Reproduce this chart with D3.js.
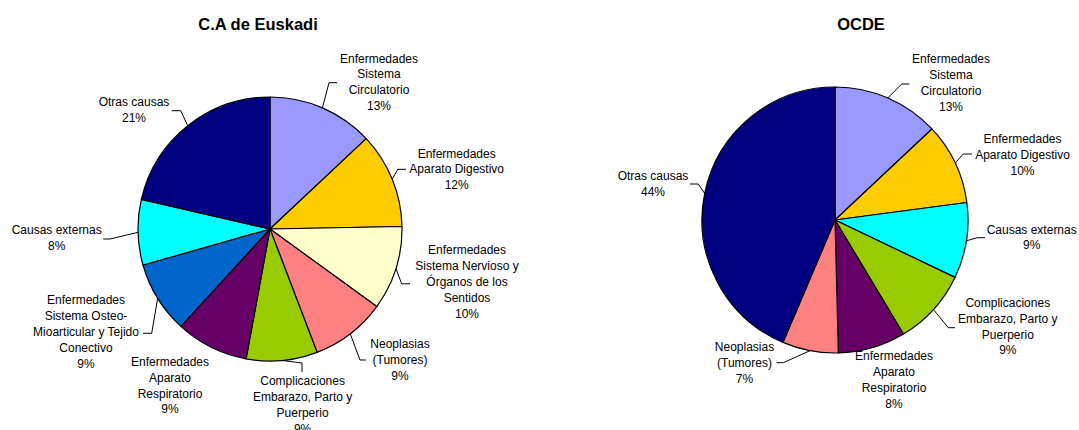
<!DOCTYPE html>
<html>
<head>
<meta charset="utf-8">
<script src="https://cdn.jsdelivr.net/npm/d3@7"></script>
<style>
  html, body { margin: 0; padding: 0; background: #ffffff; }
  svg { display: block; }
  text { font-family: "Liberation Sans", Arial, sans-serif; fill: #000; }
</style>
</head>
<body>
<div id="chart"></div>
<script>
// Causes of sick leave, share by group
const euskadiCauses = [
  "Enfermedades Sistema Circulatorio",
  "Enfermedades Aparato Digestivo",
  "Enfermedades Sistema Nervioso y Órganos de los Sentidos",
  "Neoplasias (Tumores)",
  "Complicaciones Embarazo, Parto y Puerperio",
  "Enfermedades Aparato Respiratorio",
  "Enfermedades Sistema Osteo-Mioarticular y Tejido Conectivo",
  "Causas externas",
  "Otras causas"
];
const euskadiValues = [13.0, 11.7, 10.3, 9.2, 8.7, 8.9, 8.8, 8.0, 21.4];

const ocdeCauses = [
  "Enfermedades Sistema Circulatorio",
  "Enfermedades Aparato Digestivo",
  "Causas externas",
  "Complicaciones Embarazo, Parto y Puerperio",
  "Enfermedades Aparato Respiratorio",
  "Neoplasias (Tumores)",
  "Otras causas"
];
const ocdeValues = [13.0, 9.9, 9.2, 9.3, 8.2, 6.8, 43.6];

const chartTitles = ["C.A de Euskadi", "OCDE"];

// Slice fill per cause
const causeColors = {
  "Enfermedades Sistema Circulatorio": "#9999FF",
  "Enfermedades Aparato Digestivo": "#FFCC00",
  "Enfermedades Sistema Nervioso y Órganos de los Sentidos": "#FFFFCC",
  "Neoplasias (Tumores)": "#FF8080",
  "Complicaciones Embarazo, Parto y Puerperio": "#99CC00",
  "Enfermedades Aparato Respiratorio": "#660066",
  "Enfermedades Sistema Osteo-Mioarticular y Tejido Conectivo": "#0066CC",
  "Causas externas": "#00FFFF",
  "Otras causas": "#000080"
};

// How each cause name wraps in its label
const causeLines = {
  "Enfermedades Sistema Circulatorio": ["Enfermedades", "Sistema", "Circulatorio"],
  "Enfermedades Aparato Digestivo": ["Enfermedades", "Aparato Digestivo"],
  "Enfermedades Sistema Nervioso y Órganos de los Sentidos": ["Enfermedades", "Sistema Nervioso y", "Órganos de los", "Sentidos"],
  "Neoplasias (Tumores)": ["Neoplasias", "(Tumores)"],
  "Complicaciones Embarazo, Parto y Puerperio": ["Complicaciones", "Embarazo, Parto y", "Puerperio"],
  "Enfermedades Aparato Respiratorio": ["Enfermedades", "Aparato", "Respiratorio"],
  "Enfermedades Sistema Osteo-Mioarticular y Tejido Conectivo": ["Enfermedades", "Sistema Osteo-", "Mioarticular y Tejido", "Conectivo"],
  "Causas externas": ["Causas externas"],
  "Otras causas": ["Otras causas"]
};

// Layout of each panel: pie centre/radius, title, label boxes and leader elbows
const panels = [
  {
    title: chartTitles[0], causes: euskadiCauses, values: euskadiValues,
    cx: 270, cy: 229, r: 132, titleX: 258, titleY: 30,
    labels: {
      "Enfermedades Sistema Circulatorio": { x: 379, y: 58.3, leader: [[329, 82.7], [337, 82.7]] },
      "Enfermedades Aparato Digestivo": { x: 456.7, y: 153.3, leader: [[397.7, 169.3], [406, 169.3]] },
      "Enfermedades Sistema Nervioso y Órganos de los Sentidos": { x: 467, y: 250, leader: [[401.7, 283.8], [410, 283.8]] },
      "Neoplasias (Tumores)": { x: 400, y: 344, leader: [[360, 360], [366, 360]] },
      "Complicaciones Embarazo, Parto y Puerperio": { x: 302.6, y: 381, leader: [[302, 363], [302, 372]] },
      "Enfermedades Aparato Respiratorio": { x: 170, y: 361.7, leader: null },
      "Enfermedades Sistema Osteo-Mioarticular y Tejido Conectivo": { x: 86, y: 300, leader: [[151.7, 333.3], [143, 333.3]] },
      "Causas externas": { x: 56.7, y: 230, leader: [[110, 239], [103.3, 239]] },
      "Otras causas": { x: 134, y: 101.7, leader: [[180.7, 110.7], [171.7, 110.7]] }
    }
  },
  {
    title: chartTitles[1], causes: ocdeCauses, values: ocdeValues,
    cx: 835, cy: 220, r: 133, titleX: 861, titleY: 30,
    labels: {
      "Enfermedades Sistema Circulatorio": { x: 951, y: 59, leader: [[901.7, 84], [909.3, 84]] },
      "Enfermedades Aparato Digestivo": { x: 1022.5, y: 139, leader: [[963.3, 154], [972, 154]] },
      "Causas externas": { x: 1031.7, y: 229.3, leader: [[977.3, 237.7], [985, 237.7]] },
      "Complicaciones Embarazo, Parto y Puerperio": { x: 1007.8, y: 302.7, leader: [[948.3, 327.7], [955, 327.7]] },
      "Enfermedades Aparato Respiratorio": { x: 894, y: 356, leader: null },
      "Neoplasias (Tumores)": { x: 744.5, y: 346.7, leader: [[783.3, 362.7], [776.7, 362.7]] },
      "Otras causas": { x: 653, y: 176, leader: [[698.3, 184], [690, 184]] }
    }
  }
];

const width = 1079, height = 430, lineH = 15.8;

const svg = d3.select("#chart").append("svg")
  .attr("width", width).attr("height", height);
svg.append("rect").attr("width", width).attr("height", height).attr("fill", "#fff");

const pie = d3.pie().sort(null).value(d => d.value).startAngle(0).endAngle(2 * Math.PI);

panels.forEach(p => {
  const rows = p.causes.map((c, i) => ({ cause: c, value: p.values[i] }));
  const total = d3.sum(rows, d => d.value);
  const arcs = pie(rows);
  const arc = d3.arc().innerRadius(0).outerRadius(p.r);
  const rim = d3.arc().innerRadius(p.r).outerRadius(p.r);

  svg.append("text")
    .attr("x", p.titleX).attr("y", p.titleY)
    .attr("text-anchor", "middle")
    .attr("font-size", "16.5px").attr("font-weight", "bold")
    .text(p.title);

  const g = svg.append("g").attr("transform", `translate(${p.cx},${p.cy})`);
  g.selectAll("path.slice").data(arcs).join("path")
    .attr("class", "slice")
    .attr("d", arc)
    .attr("fill", d => causeColors[d.data.cause])
    .attr("stroke", "#000").attr("stroke-width", 1.2)
    .attr("stroke-linejoin", "round");

  // Leader lines: from the slice's rim midpoint to the label
  arcs.forEach(d => {
    const lab = p.labels[d.data.cause];
    if (!lab.leader) return;
    const [rx, ry] = rim.centroid(d);
    const pts = [[p.cx + rx, p.cy + ry]].concat(lab.leader);
    svg.append("path")
      .attr("d", d3.line()(pts))
      .attr("fill", "none").attr("stroke", "#000").attr("stroke-width", 1);
  });

  // Labels: wrapped cause name plus its percentage
  arcs.forEach(d => {
    const lab = p.labels[d.data.cause];
    const lines = causeLines[d.data.cause].concat([Math.round(d.data.value / total * 100) + "%"]);
    const t = svg.append("text")
      .attr("text-anchor", "middle")
      .attr("font-size", "12px");
    lines.forEach((ln, i) => {
      t.append("tspan")
        .attr("x", lab.x)
        .attr("y", lab.y + i * lineH)
        .attr("dy", "0.36em")
        .text(ln);
    });
  });
});
</script>
</body>
</html>
